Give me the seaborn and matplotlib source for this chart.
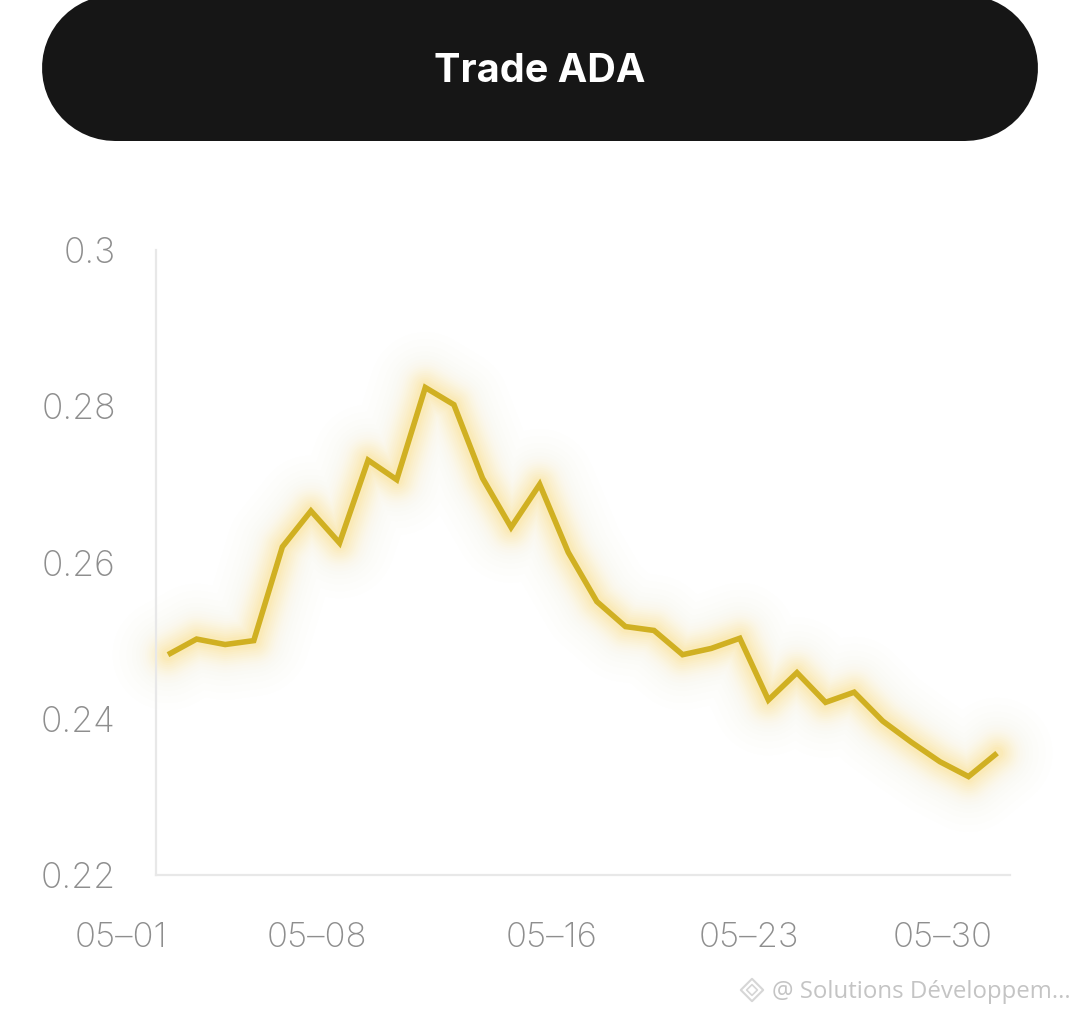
import pandas as pd
import matplotlib.pyplot as plt
import seaborn as sns

# ADA price
price = [0.2482, 0.2502, 0.2495, 0.2500, 0.2620, 0.2666, 0.2625, 0.2731, 0.2706, 0.2824,
         0.2802, 0.2708, 0.2645, 0.2700, 0.2613, 0.2550, 0.2518, 0.2513, 0.2482, 0.2490,
         0.2503, 0.2424, 0.2459, 0.2421, 0.2434, 0.2397, 0.2370, 0.2345, 0.2326, 0.2356]
day = list(range(len(price)))
x_labels = ['05–01', '05–08', '05–16', '05–23', '05–30']
x_label_days = [-1.64, 5.2, 13.4, 20.3, 27.1]
y_ticks = [0.22, 0.24, 0.26, 0.28, 0.30]
y_labels = ['0.22', '0.24', '0.26', '0.28', '0.3']

df = pd.DataFrame({'day': day, 'price': price})

W, H = 1080, 1014
fig = plt.figure(figsize=(W / 100, H / 100), dpi=100, facecolor='white')
# axes run wider than the drawn spines so the first date label still fits
ax = fig.add_axes([100 / W, 1 - 875 / H, (1080 - 100) / W, (875 - 250) / H])

# soft glow under the line
glow_widths = [80, 70, 60, 52, 46, 41, 37, 33, 30, 27, 24, 21, 18, 15, 12, 9]
glow_alpha = [.006, .006, .008, .01, .012, .016, .02, .03, .035, .04, .05, .055, .06, .07, .08, .10]
for w, a in zip(glow_widths, glow_alpha):
    sns.lineplot(data=df, x='day', y='price', ax=ax, color='#FAE070', lw=w, alpha=a,
                 solid_joinstyle='round', solid_capstyle='round', legend=False)
sns.lineplot(data=df, x='day', y='price', ax=ax, color='#D0B022', lw=4.0,
             solid_joinstyle='miter', solid_capstyle='butt', legend=False)

left_day, right_day = -12 / 28.59, 842 / 28.59
for s in ['top', 'right']:
    ax.spines[s].set_visible(False)
for s in ['left', 'bottom']:
    ax.spines[s].set_color('#e8e8e8')
    ax.spines[s].set_linewidth(1.6)
ax.spines['left'].set_position(('data', left_day))
ax.spines['bottom'].set_bounds(left_day, right_day)

ax.set_xlabel('')
ax.set_ylabel('')
ax.set_xticks(x_label_days)
ax.set_xticklabels(x_labels)
ax.set_yticks(y_ticks)
ax.set_yticklabels(y_labels)
ax.set_xlim(-68 / 28.59, 912 / 28.59)
ax.set_ylim(0.22, 0.30)
ax.tick_params(length=0, labelcolor='#8e8e8e')
ax.tick_params(axis='x', pad=34, labelsize=25)
ax.tick_params(axis='y', pad=29, labelsize=25.5)
for t in ax.get_xticklabels() + ax.get_yticklabels():
    t.set_fontfamily('Inter')
    t.set_fontweight('light')
ax.patch.set_alpha(0)

# button and watermark
overlay = fig.add_axes([0, 0, 1, 1], zorder=-1)
overlay.set_xlim(0, W)
overlay.set_ylim(H, 0)
overlay.axis('off')
overlay.plot([115, 965], [68, 68], color='#161616', lw=146 * 0.72, solid_capstyle='round')
overlay.text(540, 72, 'Trade ADA', color='white', fontsize=28.5, fontweight='bold',
             family='Inter', ha='center', va='center')

overlay.scatter([752], [990], marker='D', s=130, fc='none', ec='#d6d6d6', lw=1.5)
overlay.scatter([752], [990], marker='D', s=30, fc='none', ec='#d6d6d6', lw=1.2)
overlay.text(772, 992, '@ Solutions Développem...', color='#c4c4c4', fontsize=17.3,
             family='Open Sans', ha='left', va='center')

fig.savefig('out.png', dpi=100)
